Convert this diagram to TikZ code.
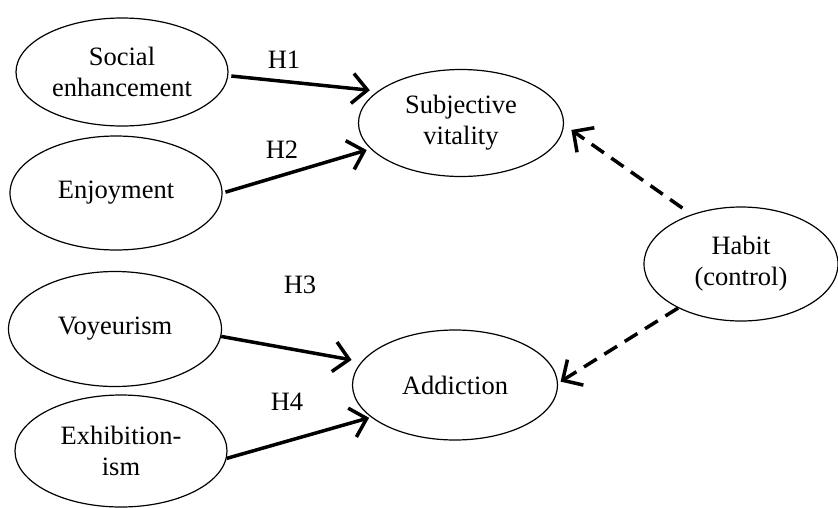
\documentclass[tikz,border=0pt]{standalone}
\usepackage{fontspec}
\setmainfont{Liberation Serif}
\usetikzlibrary{shapes.geometric,arrows.meta}
\begin{document}
\begin{tikzpicture}[x=1pt,y=-1pt,
  font=\fontsize{26.5}{31}\selectfont,
  construct/.style={draw,ellipse,line width=1.2pt,inner sep=0pt,align=center},
  effect/.style={line width=3.5pt,-{Straight Barb[length=15pt,width=30pt]}},
  control/.style={effect,dash pattern=on 15pt off 9pt}]

\useasboundingbox (0,0) rectangle (838,507);
%
\node[construct,minimum width=212pt,minimum height=108pt] (soc) at (122,72) {Social\\enhancement};
\node[construct,minimum width=212pt,minimum height=114pt] (enj) at (116,193) {Enjoyment};
\node[construct,minimum width=213pt,minimum height=115pt] (voy) at (115,329) {Voyeurism};
\node[construct,minimum width=212pt,minimum height=112pt] (exh) at (121,451) {Exhibition-\\ism};
%
\node[construct,minimum width=205pt,minimum height=107pt] (sub) at (461,123) {Subjective\\vitality};
\node[construct,minimum width=205pt,minimum height=110pt] (add) at (455,385) {Addiction};
\node[construct,minimum width=194pt,minimum height=114pt] (hab) at (741,264) {Habit\\(control)};
%
\draw[effect,shorten <=3pt,shorten >=8pt] (soc.-2) -- (sub.159.5);
\draw[effect,shorten <=3pt,shorten >=4pt] (enj.0) -- (sub.196);
\draw[effect,shorten >=10pt] (voy.-4) -- (add.166.4);
\draw[effect,shorten >=2pt] (exh.-4) -- (add.201);
%
\draw[control,shorten <=11pt,shorten >=9pt] (hab.135.5) -- (sub.-1);
\draw[control,shorten >=3pt] (hab.215.4) -- (add.1);
%
\node (h1) at (284,60) {H1};
\node (h2) at (282,150) {H2};
\node (h3) at (300,285) {H3};
\node (h4) at (287,402) {H4};
\end{tikzpicture}
\end{document}
